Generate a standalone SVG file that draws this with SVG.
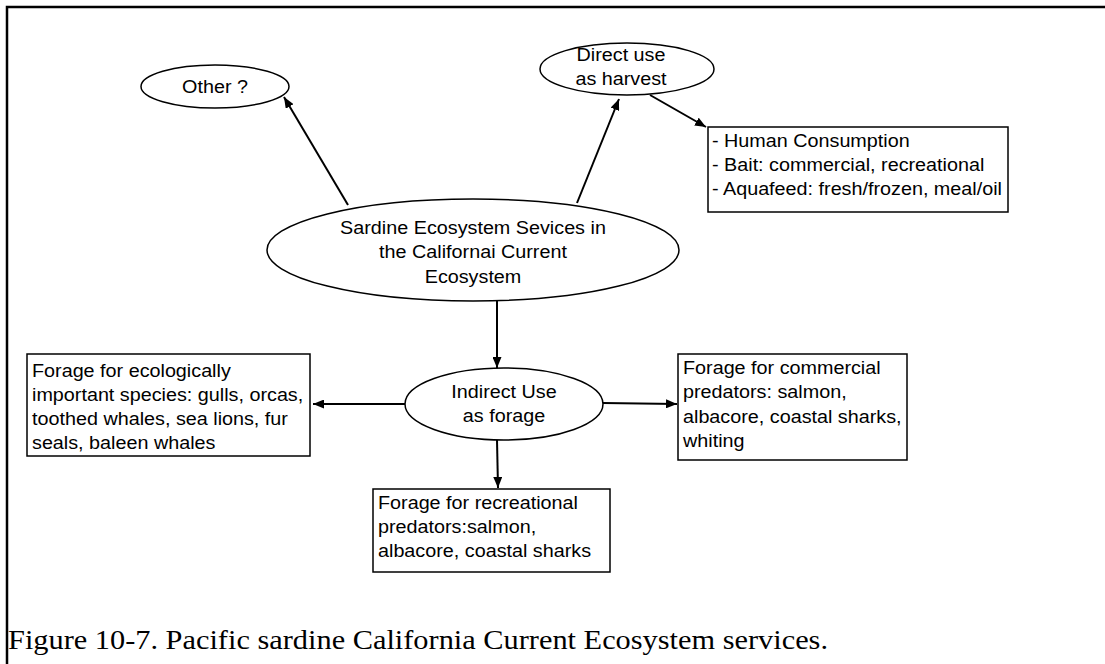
<svg xmlns="http://www.w3.org/2000/svg" width="1105" height="664" viewBox="0 0 1105 664">
<style>
.n{fill:#fff;stroke:#000;stroke-width:1.5}
.t{font-family:"Liberation Sans",Arial,sans-serif;font-size:17.5px;fill:#000}
.c{text-anchor:middle}
.e{stroke:#000;stroke-width:2;fill:none;marker-end:url(#ah)}
</style>
<defs>
<marker id="ah" viewBox="0 0 11 9" refX="11" refY="4.5" markerWidth="5.5" markerHeight="4.5" markerUnits="strokeWidth" orient="auto">
<path d="M0,0 L11,4.5 L0,9 z" fill="#000"/>
</marker>
</defs>
<rect width="1105" height="664" fill="#fff"/>
<path d="M7,664 V7 H1105" fill="none" stroke="#000" stroke-width="2.5"/>
<g id="connectors">
<line class="e" x1="348" y1="205" x2="284" y2="97"/>
<line class="e" x1="577" y1="203" x2="619" y2="99"/>
<line class="e" x1="650" y1="95" x2="706" y2="127"/>
<line class="e" x1="497" y1="301" x2="497" y2="368"/>
<line class="e" x1="405" y1="404" x2="313" y2="404"/>
<line class="e" x1="603" y1="403" x2="677" y2="404"/>
<line class="e" x1="497" y1="440" x2="498" y2="488"/>
</g>
<g id="other">
<ellipse class="n" cx="215" cy="86.5" rx="74" ry="21.5"/>
<text class="t c" transform="translate(215 93) scale(1.13 1)">Other ?</text>
</g>
<g id="direct">
<ellipse class="n" cx="627" cy="69" rx="87" ry="26"/>
<text class="t c" transform="translate(621 61) scale(1.13 1)">Direct use</text>
<text class="t c" transform="translate(621 85) scale(1.13 1)">as harvest</text>
</g>
<g id="main">
<ellipse class="n" cx="473" cy="250" rx="206" ry="51"/>
<text class="t c" transform="translate(473 234) scale(1.13 1)">Sardine Ecosystem Sevices in</text>
<text class="t c" transform="translate(473 258) scale(1.13 1)">the Californai Current</text>
<text class="t c" transform="translate(473 283) scale(1.13 1)">Ecosystem</text>
</g>
<g id="harvest-uses">
<rect class="n" x="708" y="127" width="300" height="85"/>
<text class="t" transform="translate(712 147) scale(1.13 1)">- Human Consumption</text>
<text class="t" transform="translate(712 171) scale(1.13 1)">- Bait: commercial, recreational</text>
<text class="t" transform="translate(712 195) scale(1.13 1)">- Aquafeed: fresh/frozen, meal/oil</text>
</g>
<g id="indirect">
<ellipse class="n" cx="504" cy="404" rx="99" ry="36"/>
<text class="t c" transform="translate(504 398) scale(1.13 1)">Indirect Use</text>
<text class="t c" transform="translate(504 422) scale(1.13 1)">as forage</text>
</g>
<g id="ecological">
<rect class="n" x="27" y="354" width="283" height="102"/>
<text class="t" transform="translate(32 377) scale(1.13 1)">Forage for ecologically</text>
<text class="t" transform="translate(32 401) scale(1.13 1)">important species: gulls, orcas,</text>
<text class="t" transform="translate(32 425) scale(1.13 1)">toothed whales, sea lions, fur</text>
<text class="t" transform="translate(32 449) scale(1.13 1)">seals, baleen whales</text>
</g>
<g id="commercial">
<rect class="n" x="678" y="354" width="229" height="106"/>
<text class="t" transform="translate(683 374) scale(1.13 1)">Forage for commercial</text>
<text class="t" transform="translate(683 398) scale(1.13 1)">predators: salmon,</text>
<text class="t" transform="translate(683 423) scale(1.13 1)">albacore, coastal sharks,</text>
<text class="t" transform="translate(683 447) scale(1.13 1)">whiting</text>
</g>
<g id="recreational">
<rect class="n" x="373" y="489" width="237" height="83"/>
<text class="t" transform="translate(378 509) scale(1.13 1)">Forage for recreational</text>
<text class="t" transform="translate(378 533) scale(1.13 1)">predators:salmon,</text>
<text class="t" transform="translate(378 557) scale(1.13 1)">albacore, coastal sharks</text>
</g>
<text x="8" y="649" textLength="820" lengthAdjust="spacingAndGlyphs" font-family="'Liberation Serif','Times New Roman',serif" font-size="27" fill="#000">Figure 10-7. Pacific sardine California Current Ecosystem services.</text>
</svg>
